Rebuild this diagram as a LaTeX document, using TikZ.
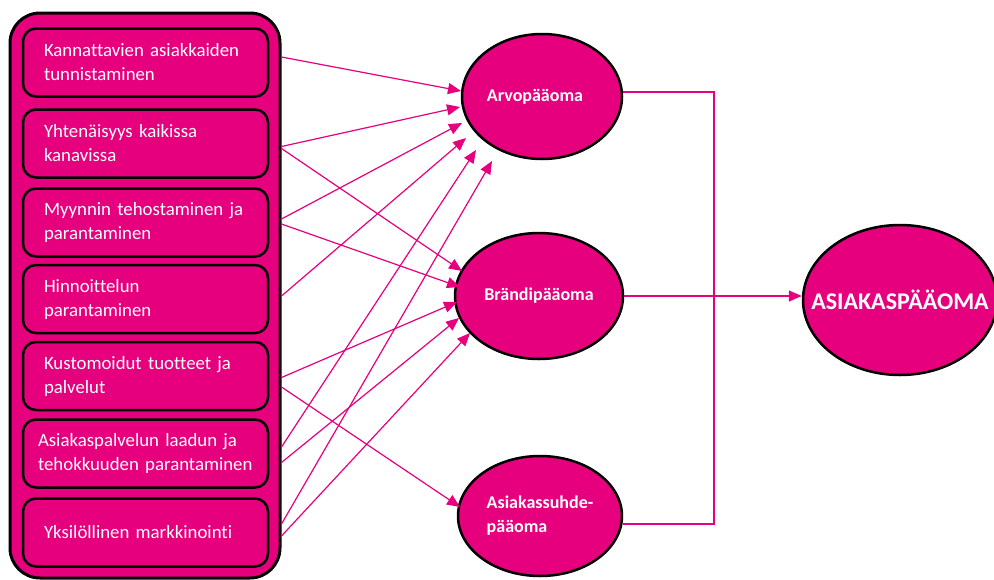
\documentclass[tikz,border=0pt]{standalone}
\usepackage{fontspec}
\setmainfont{Carlito}[Ligatures=NoCommon]
\usepackage{tikz}
\usetikzlibrary{calc}
\usetikzlibrary{shapes.geometric}
\usetikzlibrary{arrows.meta}
\definecolor{pinkfill}{RGB}{230,0,126}
\tikzset{every picture/.style={line width=0.75pt}}
\tikzset{
  outerbox/.style={draw=black, fill=pinkfill, line width=3pt, rounded corners=30pt, minimum width=270pt, minimum height=565pt},
  itembox/.style={draw=black, fill=pinkfill, line width=2.5pt, rounded corners=13pt, minimum width=245pt, minimum height=68pt, text width=203pt, inner xsep=21pt, align=left, text=white, font=\fontsize{18.8}{24}\selectfont},
  capital/.style={ellipse, draw=black, fill=pinkfill, line width=2.5pt, inner sep=0pt, align=center, text=white, font=\bfseries\fontsize{18}{24}\selectfont},
  feed/.style={draw=pinkfill, line width=1.2pt, -{Triangle[length=13pt,width=11pt]}},
  link/.style={draw=pinkfill, line width=1.5pt}
}

\begin{document}
\begin{tikzpicture}[x=1pt,y=1pt,yscale=-1]
\useasboundingbox (0,0) rectangle (994,579);

%Shape: Rounded Rect [outer]
\node[outerbox] (fr) at (145,295.5) {};

%Shape: Rounded Rect [items]
\node[itembox] (k1) at (145.5,62.5) {Kannattavien asiakkaiden\\tunnistaminen};
\node[itembox] (k2) at (145.5,143.5) {Yhtenäisyys kaikissa\\kanavissa};
\node[itembox] (k3) at (145.5,222.5) {Myynnin tehostaminen ja\\parantaminen};
\node[itembox] (k4) at (145.5,299) {Hinnoittelun\\parantaminen};
\node[itembox] (k5) at (145.5,376) {Kustomoidut tuotteet ja\\palvelut};
\node[itembox, text width=215pt, inner xsep=15pt] (k6) at (145.5,453.5) {Asiakaspalvelun laadun ja\\tehokkuuden parantaminen};
\node[itembox] (k7) at (145.5,532.5) {Yksilöllinen markkinointi};

%Shape: Ellipse
\node[capital, minimum width=160pt, minimum height=125pt] (arvo) at (542,96.5) {Arvopääoma\hspace*{14pt}};
\node[capital, minimum width=168pt, minimum height=126pt] (brandi) at (539,296) {Brändipääoma};
\node[capital, minimum width=164pt, minimum height=120pt, align=left] (suhde) at (540,516) {Asiakassuhde-\\pääoma};
\node[capital, minimum width=194pt, minimum height=150pt, label={[text=white, font=\bfseries\fontsize{24}{28}\selectfont]center:ASIAKASPÄÄOMA}] (asia) at (900,300) {};

%Straight Lines
\draw[feed] ($(k1.east -| fr.east)+(0,-5.5)$) -- ($(arvo)+(-81,-5.5)$);
\draw[feed] ($(k2.east -| fr.east)+(0,3)$) -- ($(arvo)+(-82,10.5)$);
\draw[feed] ($(k2.east -| fr.east)+(0,5)$) -- ($(brandi)+(-77,-25)$);
\draw[feed] ($(k3.east -| fr.east)+(0,-3.5)$) -- ($(arvo)+(-80,26.5)$);
\draw[feed] ($(k3.east -| fr.east)+(0,1.5)$) -- ($(brandi)+(-79,-9)$);
\draw[feed] ($(k4.east -| fr.east)+(0,-3)$) -- ($(arvo)+(-76,41.5)$);
\draw[feed] ($(k5.east -| fr.east)+(0,1.5)$) -- ($(brandi)+(-82,6)$);
\draw[feed] ($(k5.east -| fr.east)+(0,11)$) -- ($(suhde)+(-80,-9)$);
\draw[feed] ($(k6.east -| fr.east)+(0,-6.5)$) -- ($(arvo)+(-66,53.5)$);
\draw[feed] ($(k6.east -| fr.east)+(0,9)$) -- ($(brandi)+(-80,22)$);
\draw[feed] ($(k7.east -| fr.east)+(0,-8.5)$) -- ($(arvo)+(-50,64.5)$);
\draw[feed] ($(k7.east -| fr.east)+(0,3.5)$) -- ($(brandi)+(-69,37)$);

%Straight Lines [right]
\coordinate (jt) at (714,92);
\coordinate (jb) at (714,524);
\draw[link] (arvo.east |- jt) -- (jt) -- (jb) -- (suhde.east |- jb);
\draw[link, -{Triangle[length=13pt,width=11pt]}] (brandi.east) -- (brandi.east -| asia.west);

\end{tikzpicture}
\end{document}
